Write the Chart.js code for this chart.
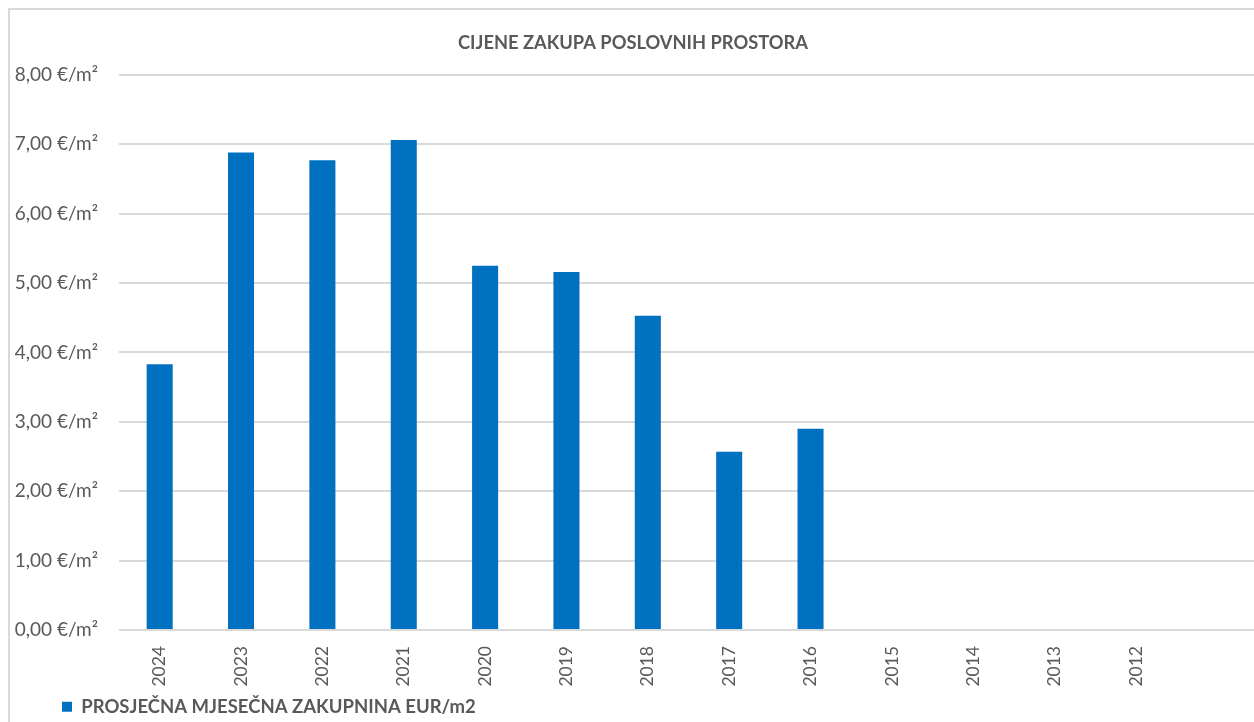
<!DOCTYPE html>
<html lang="hr">
<head>
    <meta charset="UTF-8" />
    <title>Cijene zakupa poslovnih prostora</title>
    <script src="https://cdn.jsdelivr.net/npm/chart.js@4.4.0/dist/chart.umd.min.js"></script>
    <style>
        html, body { margin: 0; padding: 0; background: #fff; overflow: hidden; }
        .chart-wrap { position: relative; width: 1258px; height: 726px; }
        /* okvir grafikona (lijevi i gornji rub) */
        .chart-frame {
            position: absolute; left: 8px; top: 8px; width: 1400px; height: 800px;
            border-left: 2px solid #d9d9d9; border-top: 2px solid #d9d9d9;
            pointer-events: none;
        }
    </style>
</head>
<body>
    <div class="chart-wrap">
        <canvas id="zakupChart"></canvas>
        <div class="chart-frame"></div>
    </div>

    <script>
        // Godine (zadnja kategorija je prazna)
        const godine = ['2024', '2023', '2022', '2021', '2020', '2019', '2018', '2017', '2016', '2015', '2014', '2013', '2012', ''];
        // Prosječna mjesečna zakupnina EUR/m2
        const zakupnina = [3.83, 6.88, 6.77, 7.06, 5.25, 5.16, 4.53, 2.57, 2.90, null, null, null, null, null];
        const nazivSerije = 'PROSJEČNA MJESEČNA ZAKUPNINA EUR/m2';
        const naslov = 'CIJENE ZAKUPA POSLOVNIH PROSTORA';

        const sivaTekst = '#595959';
        const font = 'Lato, "Open Sans", sans-serif';

        // legenda se pomiče udesno, ispod oznaka osi Y
        const pomakLegende = {
            id: 'pomakLegende',
            afterLayout(chart) {
                if (chart.legend) chart.legend.left += 45;
            }
        };

        new Chart(document.getElementById('zakupChart'), {
            type: 'bar',
            data: {
                labels: godine,
                datasets: [{
                    label: nazivSerije,
                    data: zakupnina,
                    backgroundColor: '#0070c0',
                    borderWidth: 0,
                    categoryPercentage: 1,
                    barPercentage: 0.32
                }]
            },
            plugins: [pomakLegende],
            options: {
                responsive: true,
                maintainAspectRatio: false,
                animation: false,
                layout: { padding: { left: 8, right: 0, top: 0, bottom: 0 } },
                plugins: {
                    title: {
                        display: true,
                        text: naslov,
                        color: sivaTekst,
                        font: { family: font, size: 18.3, weight: 'bold' },
                        padding: { top: 32.6, bottom: 20.3 }
                    },
                    legend: {
                        position: 'bottom',
                        align: 'start',
                        labels: {
                            boxWidth: 10,
                            boxHeight: 10,
                            padding: 9,
                            color: sivaTekst,
                            font: { family: font, size: 18.5, weight: 'bold' }
                        }
                    },
                    tooltip: { enabled: false }
                },
                scales: {
                    x: {
                        grid: { display: false, drawTicks: false },
                        border: { display: false },
                        ticks: {
                            autoSkip: false,
                            minRotation: 90,
                            maxRotation: 90,
                            padding: 16,
                            color: sivaTekst,
                            font: { family: font, size: 17.5 }
                        },
                        afterFit: (scale) => { scale.height = 58.5; }
                    },
                    y: {
                        min: 0,
                        max: 8,
                        grid: { color: '#d9d9d9', lineWidth: 2, drawTicks: false },
                        border: { display: false },
                        ticks: {
                            stepSize: 1,
                            padding: 21,
                            color: sivaTekst,
                            font: { family: font, size: 19 },
                            callback: (v) => v.toFixed(2).replace('.', ',') + ' €/m²'
                        },
                        afterFit: (scale) => { scale.width = 111; }
                    }
                }
            }
        });
    </script>
</body>
</html>
